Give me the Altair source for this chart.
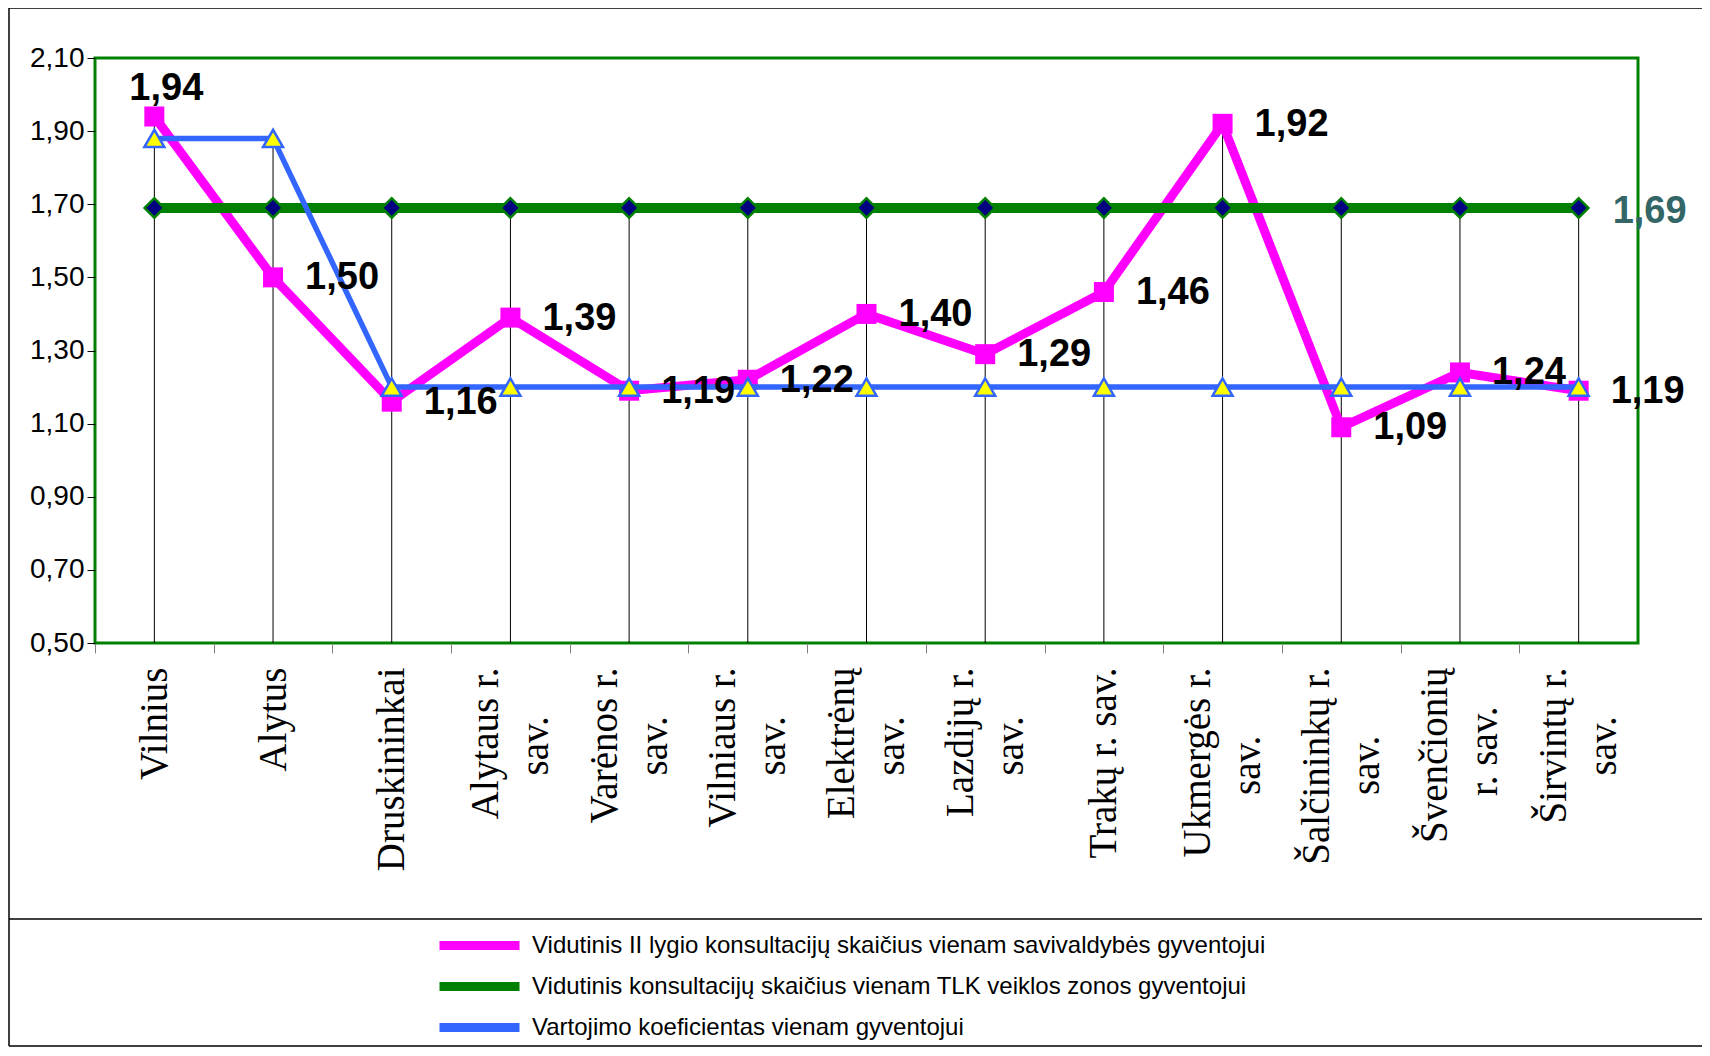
import altair as alt
import pandas as pd

categories = ["Vilnius", "Alytus", "Druskininkai", "Alytaus r.|sav.", "Varėnos r.|sav.",
              "Vilniaus r.|sav.", "Elektrėnų|sav.", "Lazdijų r.|sav.", "Trakų r. sav.",
              "Ukmergės r.|sav.", "Šalčininkų r.|sav.", "Švenčionių|r. sav.", "Širvintų r.|sav."]
pink_values = [1.94, 1.50, 1.16, 1.39, 1.19, 1.22, 1.40, 1.29, 1.46, 1.92, 1.09, 1.24, 1.19]
green_values = [1.69] * 13
blue_values = [1.88, 1.88, 1.20, 1.20, 1.20, 1.20, 1.20, 1.20, 1.20, 1.20, 1.20, 1.20, 1.20]
series_names = ["Vidutinis II lygio konsultacijų skaičius vienam savivaldybės gyventojui",
                "Vidutinis konsultacijų skaičius vienam TLK veiklos zonos gyventojui",
                "Vartojimo koeficientas vienam gyventojui"]
series_colors = ["#FF00FF", "#008000", "#3366FF"]
y_ticks = [0.5, 0.7, 0.9, 1.1, 1.3, 1.5, 1.7, 1.9, 2.1]

rows = []
for name, vals in zip(series_names, [pink_values, green_values, blue_values]):
    for c, v in zip(categories, vals):
        rows.append({"cat": c, "series": name, "value": v})
df = pd.DataFrame(rows)

W, H = 1543, 585
step = W / len(categories)
LH = 50  # label line height

# approximate Times glyph widths (em) to centre the second label line
times = {"A": .722, "D": .722, "E": .611, "L": .611, "T": .611, "U": .722, "V": .722, "Š": .556,
         "a": .444, "c": .444, "č": .444, "d": .5, "e": .444, "ė": .444, "g": .5, "i": .278,
         "j": .278, "k": .5, "l": .278, "m": .778, "n": .5, "o": .5, "r": .333, "s": .389,
         "t": .278, "u": .5, "ų": .5, "v": .5, "y": .5, "z": .444, ".": .25, " ": .25}


def tw(s):
    return sum(times.get(ch, 0.5) for ch in s)


parts = []
for c in categories:
    lines = c.split("|")
    if len(lines) == 2:
        k = max(0, round((tw(lines[0]) - tw(lines[1])) / 2 / 0.25))
        # trailing no-break spaces, closed by a zero-width space so they are not trimmed
        lines[1] = lines[1] + "\u00a0" * k + "\u200b"
    arr = "[" + ",".join("'" + ln + "'" for ln in lines) + "]"
    parts.append(f"datum.label === '{c}' ? {arr} : ")
label_expr = "".join(parts) + "datum.label"

x_enc = alt.X("cat:N", sort=categories, title=None,
              scale=alt.Scale(type="point", padding=0.5),
              axis=alt.Axis(labelExpr=label_expr, labelAngle=-90, labelFont="Liberation Serif",
                            labelFontSize=39, labelLineHeight=LH, labelColor="black",
                            labelPadding=14, labelLimit=600, labelOverlap=False,
                            tickSize=10, tickColor="#808080", tickOffset=-step / 2,
                            labelOffset={"condition": {"test": "indexof(datum.label, '|') >= 0",
                                                       "value": step / 2 - LH / 2},
                                         "value": step / 2},
                            domain=False, grid=False))
y_scale = alt.Scale(domain=[0.5, 2.1], nice=False, zero=False)
y_axis = alt.Axis(values=y_ticks, labelExpr="replace(format(datum.value, '.2f'), '.', ',')",
                  labelFont="Liberation Sans", labelFontSize=28, labelColor="black",
                  tickSize=8, tickColor="black", labelPadding=3, domain=False, grid=False)
y_enc = alt.Y("value:Q", title=None, scale=y_scale, axis=y_axis)

color_enc = alt.Color("series:N",
                      scale=alt.Scale(domain=series_names, range=series_colors),
                      legend=alt.Legend(orient="none", legendX=340, legendY=867, title=None,
                                        direction="vertical", symbolType="stroke",
                                        symbolSize=6400, symbolStrokeWidth=9, clipHeight=41,
                                        rowPadding=0, padding=0, labelFontSize=24,
                                        labelFont="Liberation Sans", labelColor="black",
                                        labelOffset=8, labelLimit=1000))

base = alt.Chart(df)

drop = base.mark_rule(color="black", strokeWidth=1).encode(
    x=x_enc,
    y=alt.Y("max(value):Q", title=None, scale=y_scale, axis=y_axis),
    y2=alt.datum(0.5))


def line_layer(name, width):
    return base.transform_filter(alt.datum.series == name).mark_line(
        strokeWidth=width).encode(x=x_enc, y=y_enc, color=color_enc)


pink_line = line_layer(series_names[0], 9)
green_line = line_layer(series_names[1], 10)
blue_line = line_layer(series_names[2], 5.5)

pink_pts = base.transform_filter(alt.datum.series == series_names[0]).mark_point(
    shape="square", size=400, filled=True, fill="#FF00FF", opacity=1).encode(x=x_enc, y=y_enc)
green_pts = base.transform_filter(alt.datum.series == series_names[1]).mark_point(
    shape="diamond", size=380, filled=True, fill="#000080", stroke="#008000",
    strokeWidth=2.5, opacity=1).encode(x=x_enc, y=y_enc)
blue_pts = base.transform_filter(alt.datum.series == series_names[2]).mark_point(
    shape="triangle-up", size=400, filled=True, fill="#FFFF00", stroke="#3366FF",
    strokeWidth=2.5, opacity=1).encode(x=x_enc, y=y_enc)

lbl_calc = "replace(format(datum.value, '.2f'), '.', ',')"
txt_style = dict(font="Liberation Sans", fontSize=38, fontWeight="bold",
                 align="center", baseline="middle")

pink_lbl = base.transform_filter(
    (alt.datum.series == series_names[0]) & (alt.datum.cat != categories[0])
).transform_calculate(lbl=lbl_calc).mark_text(dx=69, dy=1, color="black", **txt_style).encode(
    x=x_enc, y=y_enc, text="lbl:N")
pink_lbl_first = base.transform_filter(
    (alt.datum.series == series_names[0]) & (alt.datum.cat == categories[0])
).transform_calculate(lbl=lbl_calc).mark_text(dx=12, dy=-28, color="black", **txt_style).encode(
    x=x_enc, y=y_enc, text="lbl:N")
green_lbl = base.transform_filter(
    (alt.datum.series == series_names[1]) & (alt.datum.cat == categories[-1])
).transform_calculate(lbl=lbl_calc).mark_text(dx=71, dy=4, color="#336666", **txt_style).encode(
    x=x_enc, y=y_enc, text="lbl:N")

one = pd.DataFrame({"k": [0]})


def frame(**enc):
    return alt.Chart(one).mark_rule(color="black", strokeWidth=1.5).encode(**enc)


frame_top = frame(x=alt.value(-86), x2=alt.value(1607), y=alt.value(-50))
frame_left = frame(x=alt.value(-86), y=alt.value(-50), y2=alt.value(988))
frame_mid = frame(x=alt.value(-86), x2=alt.value(1607), y=alt.value(861))
frame_bot = frame(x=alt.value(-86), x2=alt.value(1607), y=alt.value(988))

chart = alt.layer(
    frame_top, frame_left, frame_mid, frame_bot,
    drop, pink_line, pink_pts, green_line, green_pts, blue_line, blue_pts,
    pink_lbl, pink_lbl_first, green_lbl
).properties(
    width=W, height=H,
    autosize=alt.AutoSizeParams(type="none"),
    padding={"left": 87, "top": 50, "right": 64, "bottom": 405},
    background="white"
).configure_view(stroke="#008000", strokeWidth=3)

chart.save("out.html", embed_options={"renderer": "svg", "actions": False})
